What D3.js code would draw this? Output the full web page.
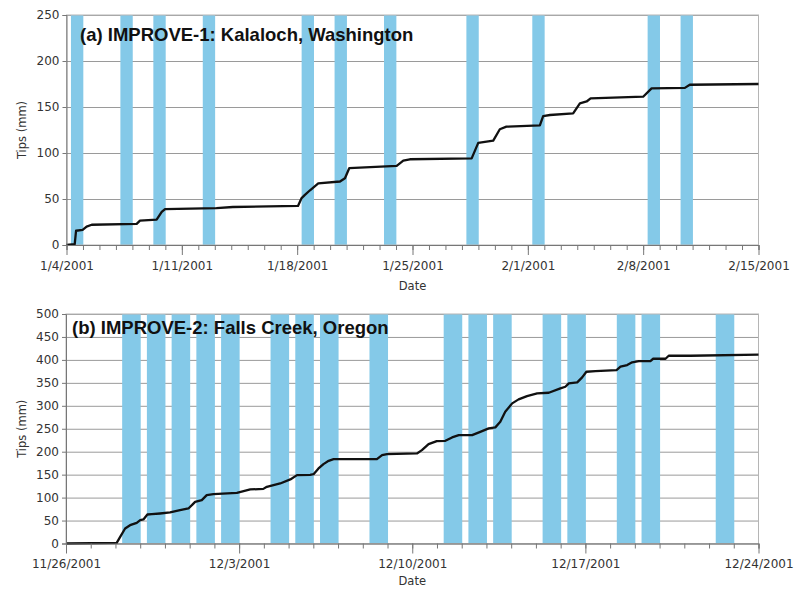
<!DOCTYPE html>
<html>
<head>
<meta charset="utf-8">
<script src="https://cdn.jsdelivr.net/npm/d3@7"></script>
<style>
  body { margin: 0; background: #fff; }
  svg { display: block; }
</style>
</head>
<body>
<svg id="chart" width="794" height="589"></svg>
<script>
// Panel (a): Kalaloch, Washington -- cumulative tips, day offsets from 1/4/2001
const kalalochDays = [0, 0.5, 0.58, 0.98, 1.22, 1.53, 4.26, 4.46, 5.47, 5.78, 5.98, 9.1, 10.1, 14.05,
  14.27, 14.47, 14.78, 15.28, 16.6, 16.9, 17.16, 20.04, 20.44, 20.84, 24.59, 24.99, 25.9, 26.3, 26.7,
  28.73, 28.93, 29.34, 30.75, 31.16, 31.57, 31.81, 35.0, 35.51, 37.53, 37.83, 42];
const kalalochTips = [0, 1, 15.5, 16.5, 20, 22, 23, 26.5, 27.5, 36, 39, 40, 41.3, 42.5,
  51, 54.5, 59.5, 67, 69, 72.5, 83.5, 86, 91.7, 93.2, 94.2, 111, 113.4, 125.8, 128.6,
  130, 140.2, 141.3, 143, 154, 156, 159.4, 161.2, 170.3, 170.8, 174.2, 175];
// sample days (day offset of each sampling period)
const kalalochSampleDays = [0, 3, 5, 8, 14, 16, 19, 24, 28, 35, 37];
const kalalochTickDays = [0, 7, 14, 21, 28, 35, 42];

// Panel (b): Falls Creek, Oregon -- day offsets from 11/26/2001
const fallsDays = [0, 2.05, 2.19, 2.39, 2.59, 2.86, 3.0, 3.13, 3.29, 3.47, 3.8, 4.21, 4.61, 4.95, 5.09,
  5.22, 5.49, 5.69, 5.96, 6.91, 7.45, 7.98, 8.12, 8.66, 9.07, 9.34, 9.87, 10.01, 10.21, 10.41, 10.62,
  10.82, 12.57, 12.78, 12.98, 14.19, 14.39, 14.66, 14.99, 15.34, 15.61, 15.88, 16.42, 16.75, 17.09,
  17.36, 17.56, 17.76, 18.04, 18.3, 18.64, 19.05, 19.52, 19.99, 20.19, 20.33, 20.67, 20.87, 21.04,
  21.41, 22.26, 22.42, 22.69, 22.89, 23.16, 23.63, 23.74, 24.24, 24.37, 25.25, 28];
const fallsTips = [0, 1.3, 14.4, 32.7, 39.9, 45, 50.8, 52.3, 63.2, 63.9, 65.4, 67.6, 72.6, 76.3, 83.5,
  90.7, 94.4, 105.3, 107.5, 110.3, 117.7, 119, 123.4, 130.8, 139.6, 148.9, 149.6, 151.1, 163.5, 172.9, 180.1,
  183.8, 183.8, 192.5, 194.7, 196.2, 203.4, 216.5, 223.1, 223.7, 231.1, 236.2, 236.2, 243.3, 250.8,
  253, 265.2, 287, 305.3, 314, 321.2, 327.1, 328.4, 338, 341.5, 348.9, 351.1, 362, 374.2,
  375.7, 377.9, 385.1, 388.8, 394.7, 397.5, 397.5, 402.5, 402.5, 409, 409, 411.3];
const fallsSampleDays = [2, 3, 4, 5, 6, 8, 9, 10, 12, 15, 16, 17, 19, 20, 22, 23, 26];
const fallsTickDays = [0, 7, 14, 21, 28];

// sampling period runs from 06:30 to 00:30 next day
const sampleOnHours = 6.5;
const sampleOffHours = 24.5;

const fmt = d3.timeFormat("%-m/%-d/%Y");
const svg = d3.select("#chart");
const font = "'DejaVu Sans', Verdana, sans-serif";

function drawPanel(p) {
  const start = p.start;
  const toDate = d => d3.timeMinute.offset(start, Math.round(d * 1440));
  const x = d3.scaleTime().domain([start, toDate(p.nDays)]).range([p.left, p.right]);
  const y = d3.scaleLinear().domain([0, p.yMax]).range([p.bottom, p.top]);
  const g = svg.append("g");

  // gridlines
  g.append("g")
    .attr("transform", `translate(${p.left},0)`)
    .call(d3.axisLeft(y).ticks(p.yMax / 50).tickSize(-(p.right - p.left)).tickFormat(""))
    .call(s => s.select(".domain").remove())
    .call(s => s.selectAll("line").attr("stroke", "#9a9a9a"));

  // sampling periods
  g.selectAll("rect.band")
    .data(p.samples)
    .enter()
    .append("rect")
    .attr("class", "band")
    .attr("x", d => x(d3.timeMinute.offset(toDate(d), sampleOnHours * 60)))
    .attr("width", d => x(d3.timeMinute.offset(toDate(d), sampleOffHours * 60)) - x(d3.timeMinute.offset(toDate(d), sampleOnHours * 60)))
    .attr("y", p.top)
    .attr("height", p.bottom - p.top)
    .attr("fill", "#84c9e8");

  // frame
  g.append("rect")
    .attr("x", p.left).attr("y", p.top)
    .attr("width", p.right - p.left).attr("height", p.bottom - p.top)
    .attr("fill", "none").attr("stroke", "#b5b5b5");

  // title
  g.append("text")
    .attr("x", p.titleX).attr("y", p.titleY)
    .attr("font-family", "'Liberation Sans', Arial, sans-serif")
    .attr("font-weight", "bold")
    .attr("font-size", "18.5px")
    .attr("fill", "#111")
    .text(p.title);

  // cumulative line
  const line = d3.line()
    .x((d, i) => x(toDate(p.days[i])))
    .y(d => y(d));
  g.append("path")
    .datum(p.tips)
    .attr("d", line)
    .attr("fill", "none")
    .attr("stroke", "#111")
    .attr("stroke-width", 2.3)
    .attr("stroke-linejoin", "round");

  // y axis
  g.append("g")
    .attr("transform", `translate(${p.left},0)`)
    .call(d3.axisLeft(y).ticks(p.yMax / 50).tickSize(4).tickPadding(3))
    .call(s => s.select(".domain").attr("stroke", "#777"))
    .call(s => s.selectAll("line").attr("stroke", "#777"))
    .call(s => s.selectAll("text").attr("font-family", font).attr("font-size", "12px").attr("fill", "#333"));

  // x axis: daily minor ticks
  const allDays = d3.range(0, p.nDays + 1).map(toDate);
  g.append("g")
    .attr("transform", `translate(0,${p.bottom})`)
    .call(d3.axisBottom(x).tickValues(allDays).tickSize(5).tickFormat(""))
    .call(s => s.select(".domain").attr("stroke", "#777"))
    .call(s => s.selectAll("line").attr("stroke", "#777"));

  // x axis: weekly labelled ticks
  g.append("g")
    .attr("transform", `translate(0,${p.bottom})`)
    .call(d3.axisBottom(x).tickValues(p.tickDays.map(toDate)).tickSize(10).tickPadding(6).tickFormat(fmt))
    .call(s => s.select(".domain").remove())
    .call(s => s.selectAll("line").attr("stroke", "#777"))
    .call(s => s.selectAll("text").attr("font-family", font).attr("font-size", "12px").attr("fill", "#333"));

  // axis titles
  g.append("text")
    .attr("x", (p.left + p.right) / 2).attr("y", p.bottom + p.dateGap)
    .attr("text-anchor", "middle")
    .attr("font-family", font).attr("font-size", "11.5px").attr("fill", "#333")
    .text("Date");
  g.append("text")
    .attr("transform", `translate(26,${(p.top + p.bottom) / 2}) rotate(-90)`)
    .attr("text-anchor", "middle")
    .attr("font-family", font).attr("font-size", "11.5px").attr("fill", "#333")
    .text("Tips (mm)");
}

drawPanel({
  start: new Date(2001, 0, 4), nDays: 42,
  days: kalalochDays, tips: kalalochTips, samples: kalalochSampleDays, tickDays: kalalochTickDays,
  yMax: 250, left: 66.5, right: 758.5, top: 15, bottom: 245, dateGap: 45,
  title: "(a) IMPROVE-1: Kalaloch, Washington", titleX: 80, titleY: 41
});

drawPanel({
  start: new Date(2001, 10, 26), nDays: 28,
  days: fallsDays, tips: fallsTips, samples: fallsSampleDays, tickDays: fallsTickDays,
  yMax: 500, left: 66, right: 758.5, top: 314, bottom: 543.5, dateGap: 41,
  title: "(b) IMPROVE-2: Falls Creek, Oregon", titleX: 72, titleY: 334
});
</script>
</body>
</html>
